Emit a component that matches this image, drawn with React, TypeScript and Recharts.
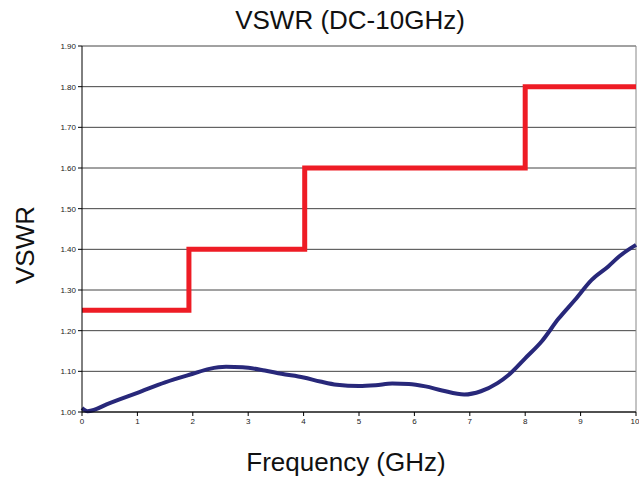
import { LineChart, Line, XAxis, YAxis, CartesianGrid, ReferenceLine } from "recharts";

const freqGHz = [0, 0.1, 0.5, 1.0, 1.5, 2.0, 2.3, 2.6, 2.9, 3.3, 3.6, 4.0, 4.3, 4.6, 5.0, 5.3, 5.6, 5.9, 6.2, 6.5, 6.9, 7.2, 7.5, 7.7, 8.0, 8.3, 8.6, 8.9, 9.2, 9.5, 9.7, 10.0];
const measured = [1.01, 1.002, 1.022, 1.047, 1.073, 1.094, 1.106, 1.111, 1.11, 1.102, 1.094, 1.085, 1.075, 1.067, 1.064, 1.066, 1.07, 1.069, 1.063, 1.053, 1.043, 1.051, 1.071, 1.091, 1.132, 1.174, 1.229, 1.276, 1.325, 1.358, 1.383, 1.411];

const limitFreq = [0, 1.93, 4.02, 8.0, 10.0];
const limitVswr = [1.25, 1.4, 1.6, 1.8, 1.8];

const yTicks = [1.0, 1.1, 1.2, 1.3, 1.4, 1.5, 1.6, 1.7, 1.8, 1.9];
const xTicks = [0, 1, 2, 3, 4, 5, 6, 7, 8, 9, 10];

const measuredData = freqGHz.map((f, i) => ({ f, v: measured[i] }));
const limitData = limitFreq.map((f, i) => ({ f, v: limitVswr[i] }));

const font = '"Liberation Sans", Arial, sans-serif';
const tick = { fontSize: 8, fill: "#222", fontFamily: font };

export default function App() {
  return (
    <div style={{ position: "absolute", left: 0, top: 0, width: 639, height: 482, background: "#fff", fontFamily: font }}>
      <LineChart width={639} height={482} margin={{ top: 46, right: 3, bottom: 40, left: 0 }}>
        <CartesianGrid vertical={false} stroke="#444" strokeWidth={1} />
        <XAxis
          type="number"
          dataKey="f"
          domain={[0, 10]}
          ticks={xTicks}
          tick={tick}
          tickSize={4}
          stroke="#000"
          height={30}
          allowDuplicatedCategory={false}
        />
        <YAxis
          type="number"
          domain={[1.0, 1.9]}
          ticks={yTicks}
          tick={tick}
          tickSize={4}
          stroke="#000"
          width={82}
          tickFormatter={(v: number) => v.toFixed(2)}
        />
        <ReferenceLine x={10} stroke="#888" />
        <Line
          data={limitData}
          dataKey="v"
          type="stepAfter"
          stroke="#ee1c25"
          strokeWidth={5}
          dot={false}
          isAnimationActive={false}
        />
        <Line
          data={measuredData}
          dataKey="v"
          type="monotone"
          stroke="#28287a"
          strokeWidth={4}
          dot={false}
          isAnimationActive={false}
        />
      </LineChart>
      <div style={{ position: "absolute", left: 350, top: 5, transform: "translateX(-50%)", fontSize: 26, color: "#111", whiteSpace: "nowrap" }}>
        VSWR (DC-10GHz)
      </div>
      <div style={{ position: "absolute", left: 346, top: 447, transform: "translateX(-50%)", fontSize: 26, color: "#111", whiteSpace: "nowrap" }}>
        Frequency (GHz)
      </div>
      <div style={{ position: "absolute", left: 25, top: 245, transform: "translate(-50%, -50%) rotate(-90deg)", fontSize: 26, color: "#111", whiteSpace: "nowrap" }}>
        VSWR
      </div>
    </div>
  );
}
